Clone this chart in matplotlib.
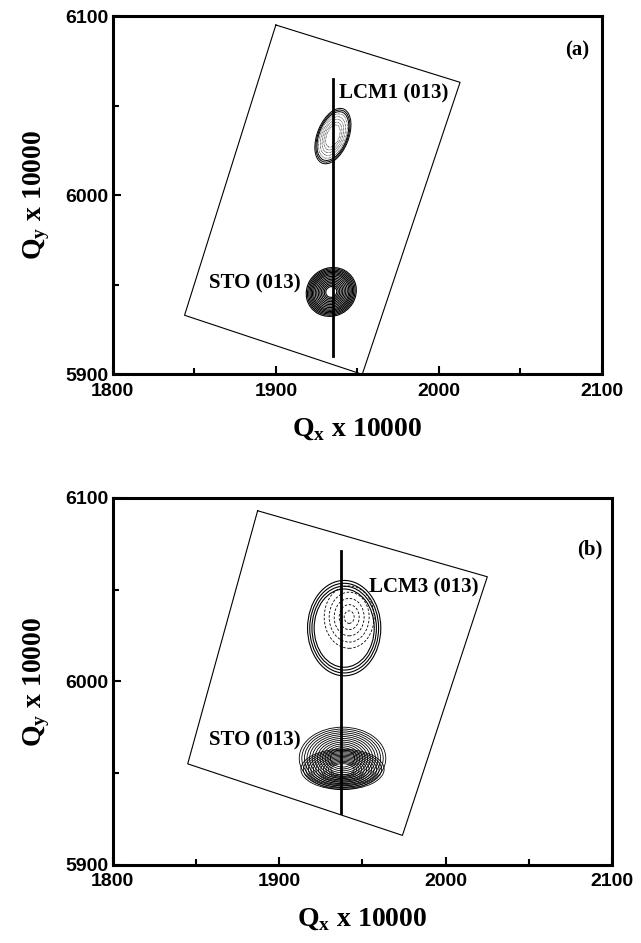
import matplotlib.pyplot as plt
from matplotlib.patches import Ellipse

# axis ranges and ticks
x_ticks = [1800, 1900, 2000, 2100]
y_ticks = [5900, 6000, 6100]
x_minor = [1850, 1950, 2050]
y_minor = [5950, 6050]

# panel (a): scan frame, vertical guide and peaks
rect_a_x = [1900, 2013, 1953, 1844, 1900]
rect_a_y = [6095, 6063, 5900, 5933, 6095]
line_a_x = [1935, 1935]
line_a_y = [6065, 5910]
# peak outlines: center x, center y, width, height, angle
peaks_a = [
    (1935, 6033, 19, 33, -25),   # LCM1 (013)
    (1934, 5946, 31, 27, 15),    # STO (013)
]
rings_a_lcm = [1.0, 0.94, 0.88, 0.8, 0.7, 0.6, 0.5, 0.4]
rings_a_sto = [1.0, 0.95, 0.9, 0.85, 0.8, 0.75, 0.7, 0.64, 0.58, 0.52,
               0.46, 0.4, 0.34, 0.28, 0.22]

# panel (b)
rect_b_x = [1887, 2025, 1974, 1845, 1887]
rect_b_y = [6093, 6057, 5916, 5955, 6093]
line_b_x = [1937, 1937]
line_b_y = [6071, 5928]
peaks_b = [
    (1939, 6029, 44, 52, 0),     # LCM3 (013) outer
    (1942, 6035, 30, 34, 0),     # LCM3 (013) inner
    (1938, 5958, 52, 34, 0),     # STO (013) upper part
    (1938, 5952, 50, 22, 0),     # STO (013) lower part
]
rings_b_lcm_out = [1.0, 0.94, 0.88, 0.82]
rings_b_lcm_in = [1.0, 0.8, 0.6, 0.4, 0.2]
rings_b_sto = [1.0, 0.94, 0.88, 0.82, 0.76, 0.7, 0.64, 0.58, 0.52, 0.46,
               0.4, 0.34, 0.28]

tick_font = dict(family='Liberation Sans', weight='bold', size=14)
label_font = dict(family='Liberation Serif', weight='bold', size=20)
note_font = dict(family='Liberation Serif', weight='bold', size=15)


def style_axes(ax):
    ax.set_xlim(1800, 2100)
    ax.set_ylim(5900, 6100)
    ax.set_xticks(x_ticks)
    ax.set_yticks(y_ticks)
    ax.set_xticks(x_minor, minor=True)
    ax.set_yticks(y_minor, minor=True)
    ax.set_xticklabels([str(v) for v in x_ticks], fontdict=tick_font)
    ax.set_yticklabels([str(v) for v in y_ticks], fontdict=tick_font)
    ax.tick_params(which='both', direction='in', width=1.5)
    ax.tick_params(axis='x', pad=6)
    ax.tick_params(axis='y', pad=3)
    ax.tick_params(which='major', length=6)
    ax.tick_params(which='minor', length=4)
    for s in ax.spines.values():
        s.set_linewidth(2.2)
    ax.set_xlabel('Q$_\\mathbf{x}$ x 10000', fontdict=label_font, labelpad=12)
    ax.set_ylabel('Q$_\\mathbf{y}$ x 10000', fontdict=label_font, labelpad=10)


def draw_peak(ax, peak, rings, lw=0.6, ls='-'):
    cx, cy, w, h, ang = peak
    for r in rings:
        ax.add_patch(Ellipse((cx, cy), w * r, h * r, angle=ang, fill=False,
                             edgecolor='black', linewidth=lw, linestyle=ls))


plt.rcParams['mathtext.fontset'] = 'custom'
plt.rcParams['mathtext.bf'] = 'Liberation Serif:bold'
plt.rcParams['mathtext.rm'] = 'Liberation Serif:bold'
fig = plt.figure(figsize=(6.41, 9.43), dpi=100)

# panel (a)
ax1 = fig.add_axes([0.176, 0.603, 0.763, 0.380])
style_axes(ax1)
ax1.plot(rect_a_x, rect_a_y, color='black', linewidth=0.8)
draw_peak(ax1, peaks_a[0], rings_a_lcm[:3], lw=0.7)
draw_peak(ax1, peaks_a[0], rings_a_lcm[3:], lw=0.5, ls=(0, (1, 1)))
draw_peak(ax1, peaks_a[1], rings_a_sto, lw=0.8)
ax1.plot(line_a_x, line_a_y, color='black', linewidth=2.0)
ax1.text(1939, 6057, 'LCM1 (013)', ha='left', va='center', **note_font)
ax1.text(1915, 5951, 'STO (013)', ha='right', va='center', **note_font)
ax1.text(2092, 6081, '(a)', ha='right', va='center', **note_font)

# panel (b)
ax2 = fig.add_axes([0.176, 0.083, 0.779, 0.389])
style_axes(ax2)
ax2.plot(rect_b_x, rect_b_y, color='black', linewidth=0.8)
draw_peak(ax2, peaks_b[0], rings_b_lcm_out, lw=0.8)
draw_peak(ax2, peaks_b[1], rings_b_lcm_in, lw=0.6, ls=(0, (3, 2)))
draw_peak(ax2, peaks_b[2], rings_b_sto, lw=0.6)
draw_peak(ax2, peaks_b[3], rings_b_sto, lw=0.6)
ax2.plot(line_b_x, line_b_y, color='black', linewidth=2.0)
ax2.text(1954, 6051, 'LCM3 (013)', ha='left', va='center', **note_font)
ax2.text(1913, 5968, 'STO (013)', ha='right', va='center', **note_font)
ax2.text(2094, 6072, '(b)', ha='right', va='center', **note_font)

fig.savefig('out.png', dpi=100)
